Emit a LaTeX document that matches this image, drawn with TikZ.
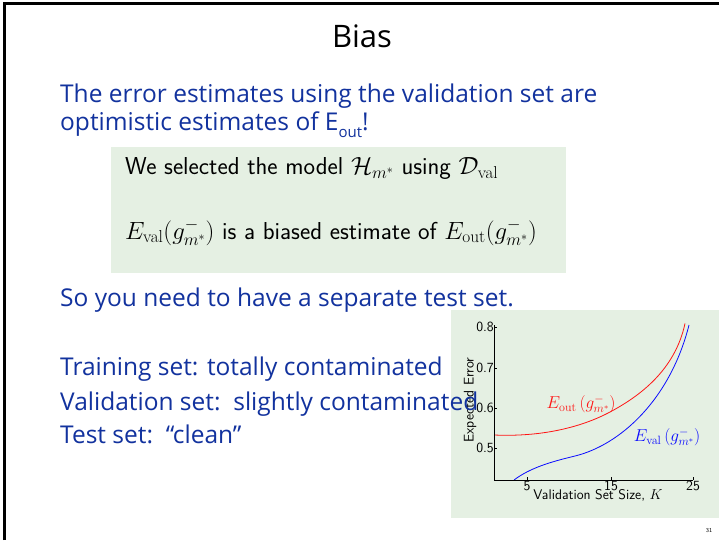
\documentclass[tikz,border=0pt]{standalone}
\usepackage[no-math]{fontspec}
\setmainfont{Open Sans}
\newfontfamily\titlefont{Open Sans}
\newfontfamily\lmsans{Latin Modern Sans}
\definecolor{slideblue}{RGB}{18,50,158}
\definecolor{boxgreen}{RGB}{229,240,227}
\definecolor{curvered}{RGB}{255,20,20}
\definecolor{curveblue}{RGB}{10,10,255}
\tikzset{
  bodytext/.style={anchor=base west, inner sep=0pt, text=slideblue, font=\fontsize{24.5}{27}\selectfont},
  boxtext/.style={anchor=base west, inner sep=0pt, font=\lmsans\fontsize{24.5}{27}\selectfont},
  ticklabel/.style={inner sep=0pt, font=\lmsans\fontsize{14}{14}\selectfont},
  curvelabel/.style={inner sep=0pt, font=\fontsize{17}{17}\selectfont},
  axisline/.style={line width=0.8pt, black},
}
\begin{document}
\begin{tikzpicture}[x=1pt,y=-1pt]
\useasboundingbox (0,0) rectangle (719,540);
\fill[white] (0,0) rectangle (719,540);
% slide frame edges
\draw[line width=3pt] (4,540) -- (4,4) -- (719,4);

% title
\node[inner sep=0pt, anchor=base, font=\titlefont\fontsize{31}{32}\selectfont] (title) at (362,48) {Bias};

% main statement
\node[bodytext] (l1) at (60,103) {The error estimates using the validation set are};
\node[bodytext] (l2) at (60,131) {optimistic estimates of E\raisebox{-0.25em}{\fontsize{15}{15}\selectfont out}!};

% highlighted box
\fill[boxgreen] (111,147) rectangle (566,273);
\node[boxtext] (b1) at (125,175) {We selected the model $\mathcal{H}_{m^*}$ using $\mathcal{D}_{\mathrm{val}}$};
\node[boxtext] (b2) at (125,239) {$E_{\mathrm{val}}(g^-_{m^*})$ is a biased estimate of $E_{\mathrm{out}}(g^-_{m^*})$};

\node[bodytext] (l3) at (60,306) {So you need to have a separate test set.};

% plot panel
\fill[boxgreen] (451,310) rectangle (719,518);
\draw[curvered, line width=0.8pt] (494,435)
  .. controls (540,437) and (580,428) .. (610,412)
  .. controls (640,396) and (675,370) .. (685,323.5);
\draw[curveblue, line width=0.8pt] (514,480)
  .. controls (530,468) and (550,462) .. (575,456)
  .. controls (620,445) and (670,400) .. (689,325);
\draw[axisline] (494,325) -- (494,480) -- (693,480);
\foreach \yy/\lab in {327/0.8,368/0.7,408/0.6,448/0.5}{
  \draw[axisline] (494,\yy) -- (497,\yy);
  \node[ticklabel, anchor=east] at (494,\yy) {\lab};
}
\foreach \xx/\lab in {527/5,611/15,693/25}{
  \draw[axisline] (\xx,480) -- (\xx,477);
  \node[ticklabel, anchor=north] at (\xx,481) {\lab};
}
\node[ticklabel, anchor=north] (xlab) at (598,489) {Validation Set Size, $K$};
\node[ticklabel, rotate=90] (ylab) at (470,400) {Expected Error};
\node[curvelabel, text=curvered] (eout) at (581,404) {$E_{\mathrm{out}}\left(g^-_{m^*}\right)$};
\node[curvelabel, text=curveblue] (eval) at (667,437) {$E_{\mathrm{val}}\left(g^-_{m^*}\right)$};

% list of sets
\node[bodytext] (l4) at (60,375) {Training set: totally contaminated};
\node[bodytext] (l5) at (60,410) {Validation set:\ \ slightly contaminated};
\node[bodytext] (l6) at (60,443) {Test set:\ \ “clean”};

% page number
\node[inner sep=0pt, font=\lmsans\fontsize{6}{6}\selectfont] (page) at (709,531) {31};
\end{tikzpicture}
\end{document}
